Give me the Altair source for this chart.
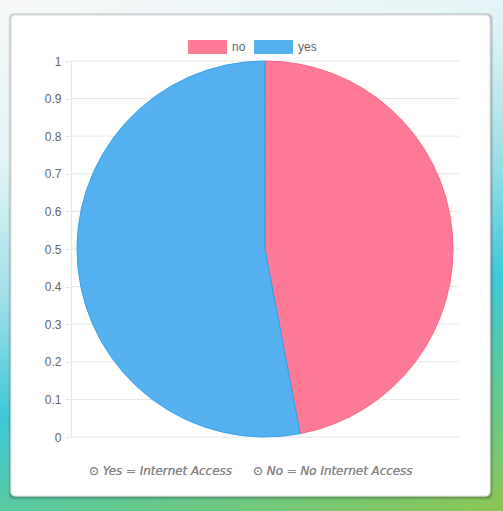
import altair as alt
import pandas as pd

categories = ["no", "yes"]
shares = [47, 53]
slice_colors = ["#FF6384", "#36A2EB"]
y_ticks = [0, 0.1, 0.2, 0.3, 0.4, 0.5, 0.6, 0.7, 0.8, 0.9, 1]
notes = ["\u2299 Yes = Internet Access", "\u2299 No = No Internet Access"]

pie_df = pd.DataFrame({"cat": categories, "value": shares})
grid_df = pd.DataFrame({"tick": y_ticks})

W, H = 388, 376
OX, OY = 71, 61

bg = alt.Chart(pie_df).mark_rect(
    fill=alt.Gradient(
        gradient="linear",
        x1=0, y1=0, x2=0.336, y2=1.188,
        stops=[
            alt.GradientStop(color="#f7f8f8", offset=0),
            alt.GradientStop(color="#e2f4f6", offset=0.25),
            alt.GradientStop(color="#a3e0e7", offset=0.45),
            alt.GradientStop(color="#3ec8d6", offset=0.64),
            alt.GradientStop(color="#5cc99c", offset=0.79),
            alt.GradientStop(color="#8cc653", offset=1),
        ],
    )
).encode(x=alt.value(-OX), x2=alt.value(503 - OX), y=alt.value(-OY), y2=alt.value(511 - OY))

shadows = []
for i, op in [(4, 0.03), (3, 0.04), (2, 0.05), (1, 0.07)]:
    shadows.append(
        alt.Chart(pie_df).mark_rect(fill="black", opacity=op, cornerRadius=5).encode(
            x=alt.value(11 - OX - i * 0.6), x2=alt.value(490 - OX + i * 0.8),
            y=alt.value(15 - OY - i * 0.5), y2=alt.value(496 - OY + i),
        )
    )

card = alt.Chart(pie_df).mark_rect(
    fill="white", cornerRadius=4, stroke="#dcdcdc", strokeWidth=1
).encode(x=alt.value(11 - OX), x2=alt.value(490 - OX), y=alt.value(15 - OY), y2=alt.value(496 - OY))

grid = alt.Chart(grid_df).mark_rule(color="#e6e6e6", strokeWidth=1).encode(
    y=alt.Y(
        "tick:Q",
        scale=alt.Scale(domain=[0, 1], nice=False, zero=False),
        axis=alt.Axis(
            values=y_ticks, format="~g", title=None, grid=False, zindex=1,
            domain=True, domainColor="#e6e6e6", ticks=True, tickSize=6,
            tickColor="#e6e6e6", labelPadding=4, labelFont="Liberation Sans",
            labelFontSize=12, labelColor="#666666",
        ),
    ),
    x=alt.value(0),
    x2=alt.value(W),
)

scale = alt.Scale(domain=categories, range=slice_colors)
legend = alt.Legend(
    orient="none", legendX=117, legendY=-33.5, direction="horizontal", title=None,
    symbolType="M-1,-0.342L1,-0.342L1,0.342L-1,0.342Z", symbolSize=1444,
    symbolStrokeWidth=1, symbolOpacity=0.85, labelOffset=5, columnPadding=6, padding=0,
    labelFont="Liberation Sans", labelFontSize=12, labelColor="#666666",
)

pie = alt.Chart(pie_df).mark_arc(radius=188, fillOpacity=0.85, strokeWidth=1).encode(
    theta=alt.Theta("value:Q", stack=True),
    fill=alt.Fill("cat:N", scale=scale, legend=legend),
    stroke=alt.Stroke("cat:N", scale=scale, legend=legend),
    x=alt.value(265 - OX),
    y=alt.value(249 - OY),
)

note_layers = []
for txt, xpos in zip(notes, [89, 253]):
    note_layers.append(
        alt.Chart(pie_df).mark_text(
            text=txt, font="DejaVu Sans", fontStyle="italic", fontSize=11.9,
            color="#858585", align="left", baseline="middle",
        ).encode(x=alt.value(xpos - OX), y=alt.value(471 - OY))
    )

chart = alt.layer(bg, *shadows, card, grid, pie, *note_layers).properties(
    width=W, height=H,
    autosize=alt.AutoSizeParams(type="none"),
    padding={"left": OX, "top": OY, "right": 503 - OX - W, "bottom": 511 - OY - H},
    background="white",
).configure_view(stroke="transparent")

chart.save("out.html", embed_options={"renderer": "svg", "actions": False})
